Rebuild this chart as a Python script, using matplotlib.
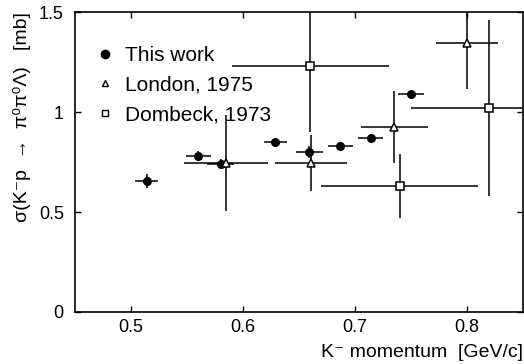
import matplotlib
matplotlib.use("Agg")
import matplotlib.pyplot as plt
from matplotlib.lines import Line2D

plt.rcParams["font.family"] = ["Liberation Sans", "DejaVu Sans"]

# This work
this_p = [0.514, 0.560, 0.580, 0.629, 0.659, 0.687, 0.714, 0.750]
this_dp = [0.010, 0.011, 0.012, 0.010, 0.012, 0.011, 0.011, 0.012]
this_s = [0.655, 0.780, 0.738, 0.850, 0.798, 0.832, 0.868, 1.088]
this_ds = [0.033, 0.025, 0.025, 0.020, 0.030, 0.020, 0.020, 0.015]

# London, 1975
lon_p = [0.585, 0.661, 0.735, 0.800]
lon_dp = [0.0375, 0.032, 0.030, 0.028]
lon_s = [0.743, 0.747, 0.927, 1.347]
lon_ds = [0.24, 0.14, 0.18, 0.23]

# Dombeck, 1973
dom_p = [0.660, 0.740, 0.820]
dom_dp = [0.070, 0.070, 0.070]
dom_s = [1.228, 0.630, 1.020]
dom_ds = [0.33, 0.16, 0.44]

labels = ["This work", "London, 1975", "Dombeck, 1973"]

fig = plt.figure(figsize=(5.24, 3.64), dpi=100)
ax = fig.add_axes([0.1431, 0.1429, 0.855, 0.824])

kw = dict(ecolor="black", elinewidth=1.1, capsize=0, color="black")
ax.errorbar(this_p, this_s, xerr=this_dp, yerr=this_ds, fmt="o", ms=5.5,
            mfc="black", mec="black", zorder=3, **kw)
ax.errorbar(lon_p, lon_s, xerr=lon_dp, yerr=lon_ds, fmt="^", ms=6,
            mfc="white", mec="black", mew=1.1, zorder=4, **kw)
ax.errorbar(dom_p, dom_s, xerr=dom_dp, yerr=dom_ds, fmt="s", ms=5.5,
            mfc="white", mec="black", mew=1.1, zorder=4, **kw)

ax.set_xlim(0.45, 0.85)
ax.set_ylim(0, 1.5)
ax.set_xticks([0.5, 0.6, 0.7, 0.8])
ax.set_xticklabels(["0.5", "0.6", "0.7", "0.8"])
ax.set_yticks([0, 0.5, 1, 1.5])
ax.set_yticklabels(["0", "0.5", "1", "1.5"])
ax.tick_params(direction="in", length=4, width=1, top=True, right=True,
               labelsize=13)
ax.tick_params(axis="x", pad=5)
ax.tick_params(axis="y", pad=8)
for sp in ax.spines.values():
    sp.set_linewidth(1.2)

ax.set_xlabel("K\u207b momentum  [GeV/c]", fontsize=14, loc="right", labelpad=6)
ax.set_ylabel("\u03c3(K\u207bp  \u2192  \u03c0\u2070\u03c0\u2070\u039b)   [mb]",
              fontsize=14, loc="top", labelpad=6)

handles = [
    Line2D([], [], ls="none", marker="o", ms=6, mfc="black", mec="black"),
    Line2D([], [], ls="none", marker="^", ms=5, mfc="white", mec="black", mew=1),
    Line2D([], [], ls="none", marker="s", ms=5, mfc="white", mec="black", mew=1),
]
ax.legend(handles, labels, loc="upper left", bbox_to_anchor=(0.048, 0.886),
          frameon=False, fontsize=15, handlelength=0.8, handletextpad=0.56,
          labelspacing=0.5, borderpad=0, borderaxespad=0)

fig.savefig("out.png", dpi=100)
